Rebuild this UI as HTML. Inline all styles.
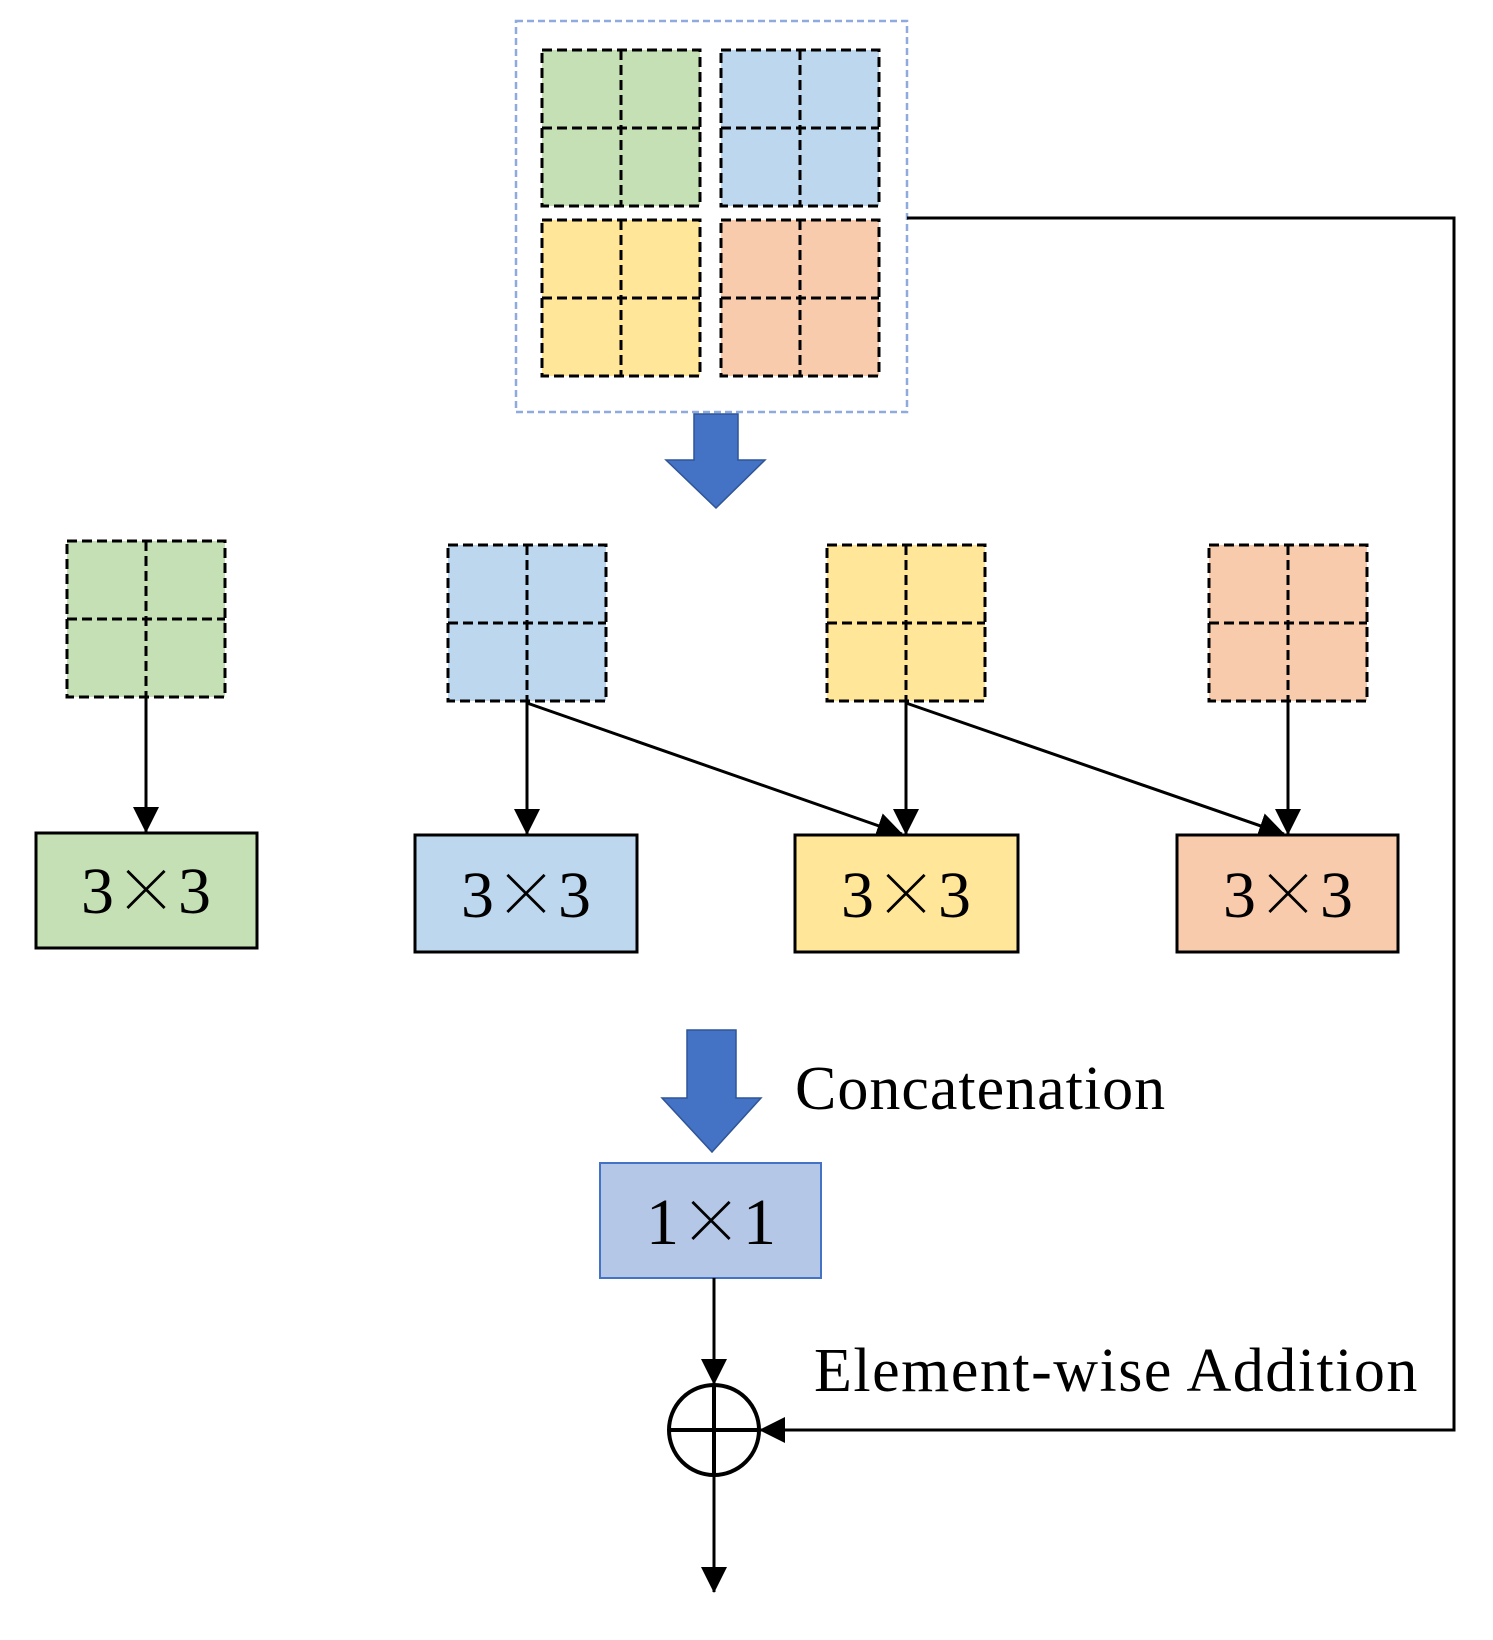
<!DOCTYPE html>
<html><head><meta charset="utf-8"><style>
html,body{margin:0;padding:0;background:#fff;}
svg{display:block;}
text{font-family:"Liberation Serif","Noto Serif CJK SC",serif;fill:#000;}
.x{font-family:"Noto Serif CJK SC","Liberation Serif",serif;}
</style></head><body>
<svg width="1493" height="1640" viewBox="0 0 1493 1640" xmlns="http://www.w3.org/2000/svg">
<defs>
<marker id="ah2" markerWidth="26" markerHeight="26" refX="25" refY="13" orient="auto" markerUnits="userSpaceOnUse" viewBox="0 0 26 26">
<path d="M0,0 L26,13 L0,26 z" fill="#000"/>
</marker>
<g id="grid">
<rect x="0" y="0" width="158" height="156" stroke="#000" stroke-width="3" stroke-dasharray="10,5" fill="none"/>
<line x1="79" y1="0" x2="79" y2="156" stroke="#000" stroke-width="3" stroke-dasharray="10,5"/>
<line x1="0" y1="78" x2="158" y2="78" stroke="#000" stroke-width="3" stroke-dasharray="10,5"/>
</g>
</defs>
<rect x="516" y="21" width="391" height="391" fill="none" stroke="#8faadc" stroke-width="2.5" stroke-dasharray="7,4"/>
<rect x="542" y="50" width="158" height="156" fill="#c5e0b4"/><use href="#grid" x="542" y="50"/>
<rect x="721" y="50" width="158" height="156" fill="#bdd7ee"/><use href="#grid" x="721" y="50"/>
<rect x="542" y="220" width="158" height="156" fill="#ffe699"/><use href="#grid" x="542" y="220"/>
<rect x="721" y="220" width="158" height="156" fill="#f8cbad"/><use href="#grid" x="721" y="220"/>
<path d="M694,414 L738,414 L738,460 L765,460 L716,508 L666,460 L694,460 z" fill="#4472c4" stroke="#2f5597" stroke-width="1.5"/>
<rect x="67" y="541" width="158" height="156" fill="#c5e0b4"/><use href="#grid" x="67" y="541"/>
<rect x="448" y="545" width="158" height="156" fill="#bdd7ee"/><use href="#grid" x="448" y="545"/>
<rect x="827" y="545" width="158" height="156" fill="#ffe699"/><use href="#grid" x="827" y="545"/>
<rect x="1209" y="545" width="158" height="156" fill="#f8cbad"/><use href="#grid" x="1209" y="545"/>
<g stroke="#000" stroke-width="3" fill="none">
<line x1="146" y1="697" x2="146" y2="832" marker-end="url(#ah2)"/>
<line x1="527" y1="701" x2="527" y2="834" marker-end="url(#ah2)"/>
<line x1="906" y1="701" x2="906" y2="834" marker-end="url(#ah2)"/>
<line x1="1288" y1="701" x2="1288" y2="834" marker-end="url(#ah2)"/>
<line x1="527" y1="703" x2="902" y2="834" marker-end="url(#ah2)"/>
<line x1="906" y1="703" x2="1284" y2="834" marker-end="url(#ah2)"/>
</g>
<rect x="36" y="833" width="221" height="115" fill="#c5e0b4" stroke="#000" stroke-width="3"/>
<rect x="415" y="835" width="222" height="117" fill="#bdd7ee" stroke="#000" stroke-width="3"/>
<rect x="795" y="835" width="223" height="117" fill="#ffe699" stroke="#000" stroke-width="3"/>
<rect x="1177" y="835" width="221" height="117" fill="#f8cbad" stroke="#000" stroke-width="3"/>
<g font-size="66" text-anchor="middle">
<text x="146" y="913">3<tspan class="x" font-size="64">×</tspan>3</text>
<text x="526" y="917">3<tspan class="x" font-size="64">×</tspan>3</text>
<text x="906" y="917">3<tspan class="x" font-size="64">×</tspan>3</text>
<text x="1288" y="917">3<tspan class="x" font-size="64">×</tspan>3</text>
</g>
<path d="M687,1030 L736,1030 L736,1098 L761,1098 L712,1152 L662,1098 L687,1098 z" fill="#4472c4" stroke="#2f5597" stroke-width="1.5"/>
<text x="795" y="1109" font-size="62" letter-spacing="1">Concatenation</text>
<rect x="600" y="1163" width="221" height="115" fill="#b4c7e7" stroke="#4472c4" stroke-width="2"/>
<text x="711" y="1244" font-size="66" text-anchor="middle">1<tspan class="x" font-size="64">×</tspan>1</text>
<g stroke="#000" stroke-width="3" fill="none">
<line x1="714" y1="1278" x2="714" y2="1384" marker-end="url(#ah2)"/>
<circle cx="714" cy="1430" r="45" stroke-width="4"/>
<line x1="669" y1="1430" x2="759" y2="1430" stroke-width="4"/>
<line x1="714" y1="1385" x2="714" y2="1475" stroke-width="4"/>
<line x1="714" y1="1475" x2="714" y2="1592" marker-end="url(#ah2)"/>
<polyline points="907,218 1454,218 1454,1430 760,1430" marker-end="url(#ah2)"/>
</g>
<text x="814" y="1391" font-size="62" letter-spacing="1.5">Element-wise Addition</text>
</svg>
</body></html>
